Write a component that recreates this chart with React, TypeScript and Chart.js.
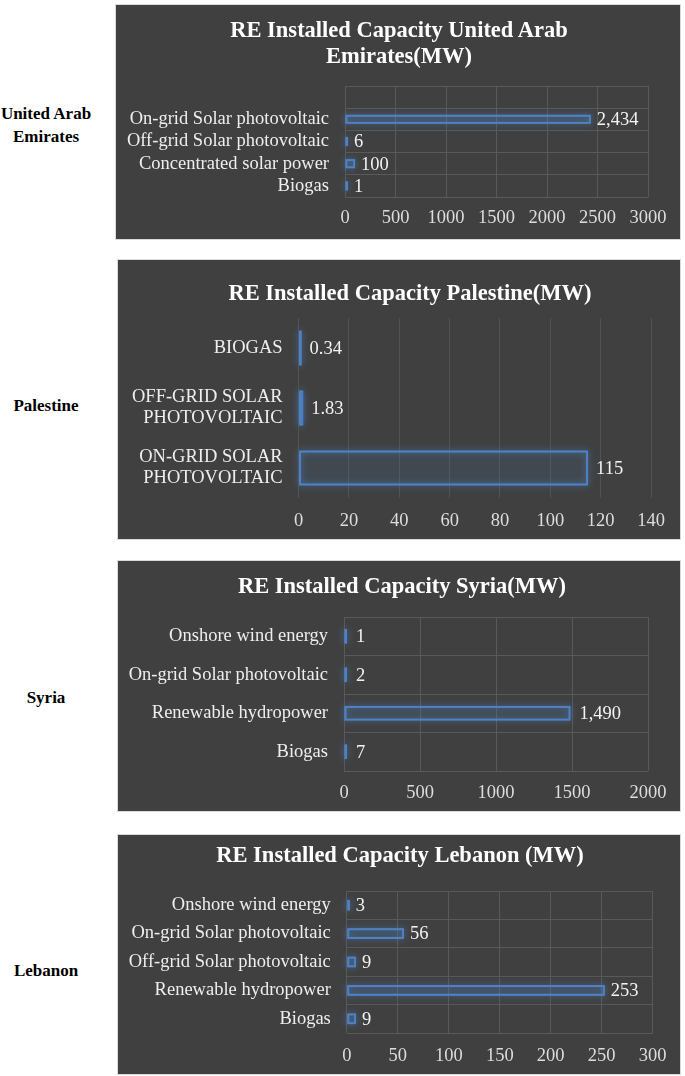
import React, { useEffect, useRef } from 'react';
import { Chart, registerables } from 'chart.js';

Chart.register(...registerables);

const FONT = "'Liberation Serif', 'Times New Roman', Times, serif";

// ---------- data ----------
const uaeCategories = ['', 'On-grid Solar photovoltaic', 'Off-grid Solar photovoltaic', 'Concentrated solar power', 'Biogas'];
const uaeValues = [null, 2434, 6, 100, 1];
const uaeTicks = [0, 500, 1000, 1500, 2000, 2500, 3000];

const palestineCategories = [['BIOGAS'], ['OFF-GRID SOLAR', 'PHOTOVOLTAIC'], ['ON-GRID SOLAR', 'PHOTOVOLTAIC']];
const palestineValues = [0.34, 1.83, 115];
const palestineTicks = [0, 20, 40, 60, 80, 100, 120, 140];

const syriaCategories = ['Onshore wind energy', 'On-grid Solar photovoltaic', 'Renewable hydropower', 'Biogas'];
const syriaValues = [1, 2, 1490, 7];
const syriaTicks = [0, 500, 1000, 1500, 2000];

const lebanonCategories = ['Onshore wind energy', 'On-grid Solar photovoltaic', 'Off-grid Solar photovoltaic', 'Renewable hydropower', 'Biogas'];
const lebanonValues = [3, 56, 9, 253, 9];
const lebanonTicks = [0, 50, 100, 150, 200, 250, 300];

const countryNames = [['United Arab', 'Emirates'], ['Palestine'], ['Syria'], ['Lebanon']];
const chartTitles = [
  ['RE Installed Capacity United Arab', 'Emirates(MW)'],
  ['RE Installed Capacity Palestine(MW)'],
  ['RE Installed Capacity Syria(MW)'],
  ['RE Installed Capacity Lebanon (MW)'],
];

type Spec = {
  left: number; top: number; width: number; height: number;
  labels: any[];
  values: (number | null)[];
  ticks: number[];
  padRight: number; yAxisWidth: number; plotTop: number;
  titleX: number; titleY: number;
  xAxisHeight: number; xTickPad: number;
  barPct: number; labelOffset: number;
  yGrid: boolean; gridColor: string;
};

const specs: Spec[] = [
  {
    left: 115, top: 4, width: 566, height: 236,
    labels: uaeCategories, values: uaeValues, ticks: uaeTicks,
    padRight: 32, yAxisWidth: 229, plotTop: 81,
    titleX: 399, titleY: 30,
    xAxisHeight: 42, xTickPad: 9.9,
    barPct: 0.41, labelOffset: 6, yGrid: true, gridColor: '#595959',
  },
  {
    left: 117, top: 259, width: 564, height: 281,
    labels: palestineCategories, values: palestineValues, ticks: palestineTicks,
    padRight: 29, yAxisWidth: 180.6, plotTop: 58,
    titleX: 410, titleY: 293,
    xAxisHeight: 41, xTickPad: 11.9,
    barPct: 0.58, labelOffset: 8, yGrid: false, gridColor: '#525252',
  },
  {
    left: 117, top: 560, width: 564, height: 252,
    labels: syriaCategories, values: syriaValues, ticks: syriaTicks,
    padRight: 32, yAxisWidth: 226, plotTop: 56,
    titleX: 402, titleY: 586,
    xAxisHeight: 40, xTickPad: 10.9,
    barPct: 0.38, labelOffset: 9, yGrid: true, gridColor: '#595959',
  },
  {
    left: 117, top: 834, width: 564, height: 241,
    labels: lebanonCategories, values: lebanonValues, ticks: lebanonTicks,
    padRight: 27.3, yAxisWidth: 228.8, plotTop: 56,
    titleX: 400, titleY: 855,
    xAxisHeight: 41, xTickPad: 11.9,
    barPct: 0.375, labelOffset: 6, yGrid: true, gridColor: '#595959',
  },
];

const labelCenters = [113, 405, 697, 970];
const TITLE_LH = 26.3;

function PanelChart({ spec, title }: { spec: Spec; title: string[] }) {
  const ref = useRef<HTMLCanvasElement>(null);
  useEffect(() => {
    if (!ref.current) return;
    const glow = {
      id: 'glow',
      beforeDatasetsDraw(chart: any) {
        const ctx = chart.ctx;
        const meta = chart.getDatasetMeta(0);
        ctx.save();
        ctx.shadowColor = 'rgba(79,135,205,0.95)';
        ctx.shadowBlur = 7;
        ctx.strokeStyle = 'rgba(79,135,205,0.9)';
        ctx.lineWidth = 2;
        meta.data.forEach((el: any, i: number) => {
          if (spec.values[i] == null) return;
          const p = el.getProps(['x', 'y', 'base', 'height'], true);
          const l = Math.min(p.base, p.x);
          const r = Math.max(p.base, p.x);
          const t = p.y - p.height / 2;
          ctx.strokeRect(l + 1, t + 1, Math.max(r - l - 2, 0.5), p.height - 2);
        });
        ctx.restore();
      },
    };
    const valueLabels = {
      id: 'valueLabels',
      afterDraw(chart: any) {
        const ctx = chart.ctx;
        const meta = chart.getDatasetMeta(0);
        ctx.save();
        ctx.font = `18.5px ${FONT}`;
        ctx.fillStyle = '#f2f2f2';
        ctx.textAlign = 'left';
        ctx.textBaseline = 'middle';
        meta.data.forEach((el: any, i: number) => {
          const v = spec.values[i];
          if (v == null) return;
          const p = el.getProps(['x', 'y'], true);
          ctx.fillText(v.toLocaleString('en-US', { maximumFractionDigits: 2 }), p.x + spec.labelOffset, p.y + 1);
        });
        ctx.restore();
      },
    };
    const t = spec.ticks;
    const chart = new Chart(ref.current, {
      type: 'bar',
      data: {
        labels: spec.labels,
        datasets: [{
          data: spec.values as any,
          backgroundColor: 'rgba(79,129,189,0.13)',
          borderColor: '#4d82c6',
          borderWidth: 1.5,
          borderSkipped: false,
          minBarLength: 3,
          categoryPercentage: 1,
          barPercentage: spec.barPct,
        }],
      },
      options: {
        indexAxis: 'y',
        responsive: false,
        animation: false,
        events: [],
        layout: { padding: { left: 0, right: spec.padRight, top: spec.plotTop, bottom: 0 } },
        plugins: {
          legend: { display: false },
          tooltip: { enabled: false },
          title: { display: false },
        },
        scales: {
          x: {
            type: 'linear',
            min: t[0],
            max: t[t.length - 1],
            ticks: {
              stepSize: t[1] - t[0],
              color: '#dddddd',
              font: { family: FONT, size: 18.5, lineHeight: 1.2 },
              padding: spec.xTickPad,
              maxRotation: 0,
              callback: (v: any) => String(v),
            },
            grid: { color: spec.gridColor, lineWidth: 1, drawTicks: false },
            border: { display: false },
            afterFit: (scale: any) => { scale.height = spec.xAxisHeight; },
          },
          y: {
            type: 'category',
            ticks: {
              color: '#eeeeee',
              font: { family: FONT, size: 18.5, lineHeight: 1.15 },
              padding: 16,
              autoSkip: false,
            },
            grid: { display: spec.yGrid, color: spec.gridColor, lineWidth: 1, drawTicks: false, offset: true },
            border: { display: false },
            afterFit: (scale: any) => { scale.width = spec.yAxisWidth; },
          },
        },
      },
      plugins: [glow, valueLabels],
    } as any);
    return () => chart.destroy();
  }, [spec]);

  const cw = spec.width - 2;
  const ch = spec.height - 2;
  const contentLeft = spec.left + 1;
  const contentTop = spec.top + 1;
  return (
    <div
      style={{
        position: 'absolute', left: spec.left, top: spec.top, width: spec.width, height: spec.height,
        boxSizing: 'border-box', border: '1px solid #d9d9d9', background: '#404040',
      }}
    >
      <canvas ref={ref} width={cw} height={ch} style={{ display: 'block', width: cw, height: ch }} />
      <div
        style={{
          position: 'absolute', left: spec.titleX - contentLeft - 300, width: 600,
          top: spec.titleY - contentTop - TITLE_LH / 2,
          textAlign: 'center', whiteSpace: 'nowrap', color: '#ffffff',
          fontFamily: FONT, fontWeight: 'bold', fontSize: 22.5, lineHeight: `${TITLE_LH}px`,
        }}
      >
        {title.map((l, j) => <div key={j}>{l}</div>)}
      </div>
    </div>
  );
}

export default function App() {
  return (
    <div style={{ position: 'absolute', left: 0, top: 0, width: 685, height: 1076, background: '#ffffff', overflow: 'hidden' }}>
      {countryNames.map((lines, i) => (
        <div
          key={i}
          style={{
            position: 'absolute', left: 0, width: 92, top: labelCenters[i] - 11.5,
            textAlign: 'center', fontFamily: FONT, fontWeight: 'bold', fontSize: 17, lineHeight: '23px', color: '#000000',
          }}
        >
          {lines.map((l, j) => <div key={j}>{l}</div>)}
        </div>
      ))}
      {specs.map((s, i) => <PanelChart key={i} spec={s} title={chartTitles[i]} />)}
    </div>
  );
}
